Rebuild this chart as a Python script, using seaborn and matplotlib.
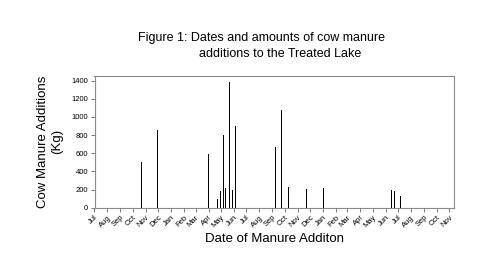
import numpy as np
import pandas as pd
import matplotlib
matplotlib.use("Agg")
import matplotlib.pyplot as plt
import matplotlib.dates as mdates
import seaborn as sns

dates = ["2001-10-22", "2001-11-30", "2002-04-01", "2002-04-22", "2002-04-29",
         "2002-05-06", "2002-05-11", "2002-05-21", "2002-05-28", "2002-06-05",
         "2002-09-09", "2002-09-10", "2002-09-23", "2002-09-24", "2002-10-10",
         "2002-11-22", "2003-01-03", "2003-06-15", "2003-06-23", "2003-07-06"]
amounts = [500, 860, 590, 100, 180,
           800, 220, 1390, 200, 900,
           670, 200, 215, 1075, 225,
           205, 215, 195, 185, 130]

sns.set_theme(style="white")
plt.rcParams['font.family'] = ['Liberation Sans', 'DejaVu Sans']
plt.rcParams['text.color'] = 'black'
plt.rcParams['axes.labelcolor'] = 'black'
plt.rcParams['xtick.color'] = 'black'
plt.rcParams['ytick.color'] = 'black'

df = pd.DataFrame({"date": pd.to_datetime(dates), "amount": amounts})
df["num"] = mdates.date2num(df["date"])

fig = plt.figure(figsize=(5, 2.78), dpi=100)
ax = fig.add_axes([0.189, 0.253, 0.719, 0.475])

sns.barplot(data=df, x="num", y="amount", native_scale=True, width=2.6,
            color="black", errorbar=None, linewidth=0, saturation=1, ax=ax)

ax.set_xlim(mdates.date2num(pd.Timestamp("2001-07-01")),
            mdates.date2num(pd.Timestamp("2003-11-12")))
ax.set_ylim(0, 1455)
ax.xaxis.set_major_locator(mdates.MonthLocator())
ax.xaxis.set_major_formatter(mdates.DateFormatter("%b"))
ax.set_yticks([0, 200, 400, 600, 800, 1000, 1200, 1400])

for lab in ax.get_xticklabels():
    lab.set_rotation(45)
    lab.set_ha("right")
    lab.set_rotation_mode("anchor")

ax.tick_params(axis="both", labelsize=5.5, length=3, width=0.6, color="#666666",
               labelcolor="black", pad=1.5, bottom=True, left=True, direction="out")
for s in ax.spines.values():
    s.set_color("#8a8a8a")
    s.set_linewidth(0.8)

ax.set_xlabel("Date of Manure Additon", fontsize=9.5, labelpad=3, color="black")
ax.set_ylabel("Cow Manure Additions\n(Kg)", fontsize=9.5, labelpad=6, color="black")

fig.text(0.522, 0.862, "Figure 1: Dates and amounts of cow manure",
         ha="center", va="center", fontsize=9, color="black")
fig.text(0.56, 0.805, "additions to the Treated Lake",
         ha="center", va="center", fontsize=9, color="black")

fig.savefig("out.png", dpi=100)
